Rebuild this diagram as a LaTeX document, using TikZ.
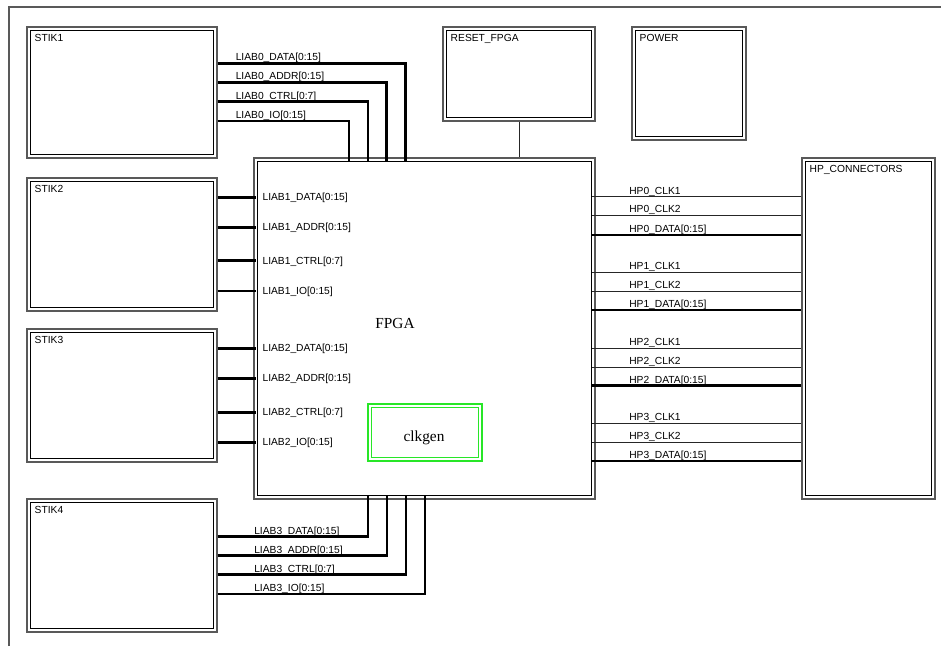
\documentclass[tikz,border=0pt]{standalone}
\usepackage{fontspec}
\setmainfont{Liberation Serif}
\newfontfamily\labfont{Liberation Sans}
\usetikzlibrary{fit}
\definecolor{clkgreen}{RGB}{40,230,40}
\tikzset{
  outbox/.style={draw=black!65, line width=0.8pt, inner sep=0pt},
  inbox/.style={draw=black, line width=0.8pt},
  bus/.style={line width=2.2pt, black},
  sig/.style={line width=0.7pt, black!85},
  lbl/.style={font=\labfont\fontsize{7.7pt}{9pt}\selectfont, inner sep=0pt, anchor=base west},
  big/.style={font=\fontsize{11.5pt}{13pt}\selectfont, inner sep=0pt},
}
\newcommand\dblbox[6]{%
  \node[outbox, fit={(#2,#3) (#4,#5)}] (#1) {};
  \draw[inbox] ([shift={(4,4)}]#1.north west) rectangle ([shift={(-4,-4)}]#1.south east);
  \node[lbl] (#1lab) at ([shift={(8,15.5)}]#1.north west) {#6};
}
\begin{document}
\begin{tikzpicture}[x=0.75pt,y=-0.75pt]
\useasboundingbox (0,0) rectangle (941,646);
% frame
\draw[black!65, line width=0.8pt] (9,646) -- (9,7) -- (941,7);
% boxes
\dblbox{stik1}{27}{27}{217}{158}{STIK1}
\dblbox{stik2}{27}{178}{217}{311}{STIK2}
\dblbox{stik3}{27}{329}{217}{462}{STIK3}
\dblbox{stik4}{27}{499}{217}{632}{STIK4}
\dblbox{reset}{443}{27}{595}{121}{RESET\_FPGA}
\dblbox{power}{632}{27}{746}{140}{POWER}
\dblbox{hp}{802}{158}{935}{499}{HP\_CONNECTORS}
% FPGA
\node[outbox, fit={(254,158) (595,499)}] (fpga) {};
\draw[inbox] ([shift={(4,4)}]fpga.north west) rectangle ([shift={(-4,-4)}]fpga.south east);
\node[big] (fpgalab) at (395,323) {FPGA};
% clkgen
\node[draw=clkgreen, line width=0.8pt, inner sep=0pt, fit={(368,404) (482,461)}] (clk) {};
\draw[draw=clkgreen, line width=0.8pt] ([shift={(4,4)}]clk.north west) rectangle ([shift={(-4,-4)}]clk.south east);
\node[big] (clklab) at (424,438) {clkgen};
% reset line
\draw[sig] (reset.south) -- (reset.south |- fpga.north);
% LIAB0
\foreach \y/\x/\t in {63.3/405.7/LIAB0\_DATA[0:15], 82.3/386.7/LIAB0\_ADDR[0:15], 101.7/368/LIAB0\_CTRL[0:7], 121/349/LIAB0\_IO[0:15]}{
  \draw[bus] (stik1.east |- 0,\y) -| ([yshift=-3pt]fpga.north -| \x,0);
  \node[lbl] at (235.5,\y-2.6) {\t};
}
% LIAB1
\foreach \y/\t in {197.3/LIAB1\_DATA[0:15], 227.3/LIAB1\_ADDR[0:15], 260.7/LIAB1\_CTRL[0:7], 291/LIAB1\_IO[0:15]}{
  \draw[bus] (stik2.east |- 0,\y) -- ([xshift=2pt]fpga.west |- 0,\y);
  \node[lbl] at (262.3,\y+3.6) {\t};
}
% LIAB2
\foreach \y/\t in {348.3/LIAB2\_DATA[0:15], 378.3/LIAB2\_ADDR[0:15], 412.3/LIAB2\_CTRL[0:7], 442.3/LIAB2\_IO[0:15]}{
  \draw[bus] (stik3.east |- 0,\y) -- ([xshift=2pt]fpga.west |- 0,\y);
  \node[lbl] at (262.3,\y+3.6) {\t};
}
% LIAB3
\foreach \y/\x/\t in {536.7/368/LIAB3\_DATA[0:15], 555.7/387/LIAB3\_ADDR[0:15], 574.7/406/LIAB3\_CTRL[0:7], 594/425/LIAB3\_IO[0:15]}{
  \draw[bus] (stik4.east |- 0,\y) -| ([yshift=3pt]fpga.south -| \x,0);
  \node[lbl] at (254,\y-2.6) {\t};
}
% HP
\foreach \n/\ya/\yb/\yc in {0/196.7/215.3/235, 1/272.3/291/310, 2/348.3/367/385.7, 3/423.3/442.3/461}{
  \draw[sig] ([xshift=-3pt]fpga.east |- 0,\ya) -- (hp.west |- 0,\ya);
  \draw[sig] ([xshift=-3pt]fpga.east |- 0,\yb) -- (hp.west |- 0,\yb);
  \draw[bus] ([xshift=-3pt]fpga.east |- 0,\yc) -- (hp.west |- 0,\yc);
  \node[lbl] at (629,\ya-2.6) {HP\n\_CLK1};
  \node[lbl] at (629,\yb-2.6) {HP\n\_CLK2};
  \node[lbl] at (629,\yc-2.6) {HP\n\_DATA[0:15]};
}
\end{tikzpicture}
\end{document}
